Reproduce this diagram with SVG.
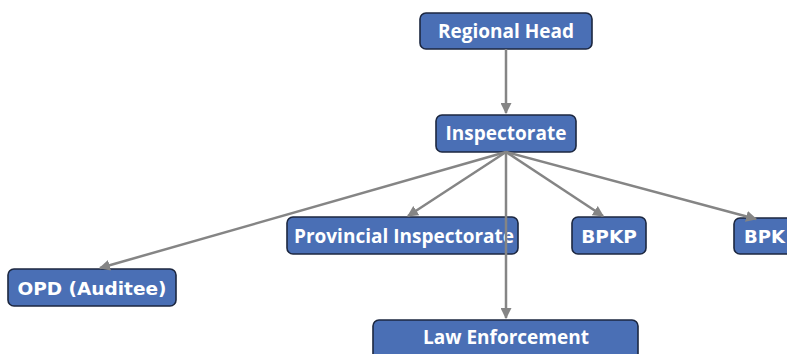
<svg xmlns="http://www.w3.org/2000/svg" width="787" height="354" viewBox="0 0 787 354">
<defs>
<marker id="ah" viewBox="0 0 10 10" refX="9" refY="5" markerWidth="4.4" markerHeight="4.4" markerUnits="strokeWidth" orient="auto">
<path d="M0,0 L10,5 L0,10 z" fill="#858585"/>
</marker>
<style>
.box{fill:#4a6fb5;stroke:#1c2740;stroke-width:1.6}
.t{fill:#ffffff;font-family:"Open Sans",sans-serif;font-weight:bold;font-size:19px;text-anchor:middle}
.v{fill:#ffffff;font-family:"DejaVu Sans",sans-serif;font-weight:bold;font-size:18.5px;text-anchor:middle}
.c{stroke:#858585;stroke-width:2.5;fill:none;marker-end:url(#ah)}
</style>
</defs>
<rect width="787" height="354" fill="#ffffff"/>
<g id="regional-head">
<rect class="box" x="420" y="13" width="172" height="36" rx="6"/>
<text class="t" x="506" y="38">Regional Head</text>
</g>
<g id="inspectorate">
<rect class="box" x="436" y="115" width="140" height="37" rx="6"/>
<text class="t" x="506" y="140">Inspectorate</text>
</g>
<g id="provincial-inspectorate">
<rect class="box" x="287" y="217" width="231" height="37" rx="6"/>
<text class="t" x="404" y="243">Provincial Inspectorate</text>
</g>
<g id="bpkp">
<rect class="box" x="572" y="217" width="74" height="37" rx="6"/>
<text class="v" x="609" y="243">BPKP</text>
</g>
<g id="bpk">
<rect class="box" x="734" y="218" width="74" height="36" rx="6"/>
<text class="v" x="744" y="243" style="text-anchor:start;font-size:18px">BPK</text>
</g>
<g id="opd">
<rect class="box" x="8" y="269" width="168" height="37" rx="6"/>
<text class="v" x="92" y="295">OPD (Auditee)</text>
</g>
<g id="law-enforcement">
<rect class="box" x="373" y="320" width="265" height="40" rx="6"/>
<text class="t" x="506" y="344">Law Enforcement</text>
</g>
<g id="connectors">
<line class="c" x1="506" y1="49" x2="506" y2="113"/>
<line class="c" x1="506" y1="152" x2="100" y2="268"/>
<line class="c" x1="506" y1="152" x2="408" y2="216"/>
<line class="c" x1="506" y1="152" x2="506" y2="318"/>
<line class="c" x1="506" y1="152" x2="603" y2="216"/>
<line class="c" x1="506" y1="152" x2="756" y2="219"/>
</g>
</svg>
